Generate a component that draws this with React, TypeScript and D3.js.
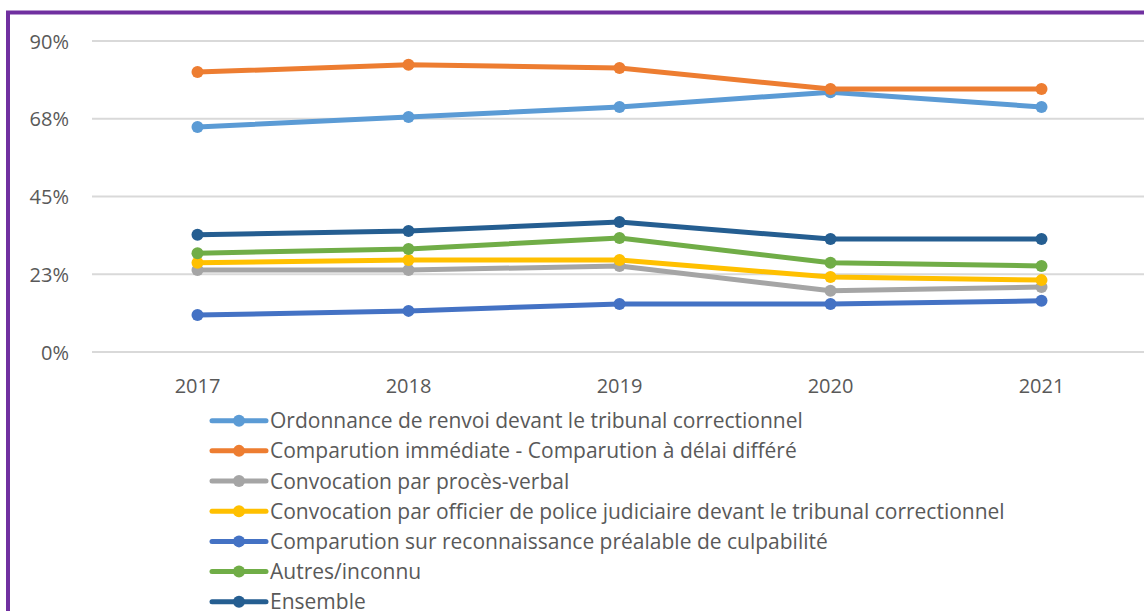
import React from "react";
import * as d3 from "d3";

const years = ["2017", "2018", "2019", "2020", "2021"];
const tickValues = [0, 22.5, 45, 67.5, 90];
const tickLabels = ["0%", "23%", "45%", "68%", "90%"];

const ordonnance = [65.1, 68.0, 70.9, 75.2, 70.9];
const comparutionImmediate = [81.0, 83.1, 82.2, 76.1, 76.1];
const convocationPV = [23.7, 23.7, 24.9, 17.7, 18.8];
const convocationOPJ = [25.8, 26.6, 26.6, 21.7, 20.8];
const crpc = [10.7, 11.9, 13.9, 13.9, 14.8];
const autres = [28.6, 29.8, 33.0, 25.8, 24.9];
const ensemble = [33.9, 35.0, 37.6, 32.7, 32.7];

const seriesNames = [
  "Ordonnance de renvoi devant le tribunal correctionnel",
  "Comparution immédiate - Comparution à délai différé",
  "Convocation par procès-verbal",
  "Convocation par officier de police judiciaire devant le tribunal correctionnel",
  "Comparution sur reconnaissance préalable de culpabilité",
  "Autres/inconnu",
  "Ensemble",
];
const seriesValues = [ordonnance, comparutionImmediate, convocationPV, convocationOPJ, crpc, autres, ensemble];
const seriesColors = ["#5B9BD5", "#ED7D31", "#A5A5A5", "#FFC000", "#4472C4", "#70AD47", "#255E91"];

const FONT = "'Open Sans', 'Liberation Sans', sans-serif";

export default function App() {
  const W = 1144;
  const H = 611;
  const x = d3.scaleBand<string>().domain(years).range([92, 1147]);
  const y = d3.scaleLinear().domain([0, 90]).range([352, 41]);
  const cx = (i: number) => (x(years[i]) as number) + x.bandwidth() / 2;
  const line = d3
    .line<number>()
    .x((_, i) => cx(i))
    .y((d) => y(d));

  return (
    <svg width={W} height={H} style={{ position: "absolute", left: 0, top: 0, background: "#fff" }}>
      <rect x={0} y={0} width={W} height={H} fill="#fff" />
      {tickValues.map((t, i) => (
        <g key={t}>
          <line x1={92} x2={W} y1={y(t)} y2={y(t)} stroke="#D9D9D9" strokeWidth={2} />
          <text x={69} y={y(t) + 7.5} textAnchor="end" fontFamily={FONT} fontSize={20} fill="#595959">
            {tickLabels[i]}
          </text>
        </g>
      ))}
      {years.map((yr, i) => (
        <text key={yr} x={cx(i)} y={393} textAnchor="middle" fontFamily={FONT} fontSize={20} fill="#595959">
          {yr}
        </text>
      ))}
      {seriesValues.map((vals, si) => (
        <g key={si}>
          <path d={line(vals) || ""} fill="none" stroke={seriesColors[si]} strokeWidth={5} strokeLinejoin="round" />
          {vals.map((v, i) => (
            <circle key={i} cx={cx(i)} cy={y(v)} r={6} fill={seriesColors[si]} />
          ))}
        </g>
      ))}
      {seriesNames.map((name, si) => {
        const ly = 420.7 + si * 30.17;
        return (
          <g key={name}>
            <line x1={212} x2={266} y1={ly} y2={ly} stroke={seriesColors[si]} strokeWidth={5} strokeLinecap="round" />
            <circle cx={239} cy={ly} r={6} fill={seriesColors[si]} />
            <text x={270} y={ly + 7.5} fontFamily={FONT} fontSize={21} fill="#595959">
              {name}
            </text>
          </g>
        );
      })}
      <path d={`M8,${H + 5} L8,12.5 L${W + 5},12.5`} fill="none" stroke="#7030A0" strokeWidth={4} />
    </svg>
  );
}
